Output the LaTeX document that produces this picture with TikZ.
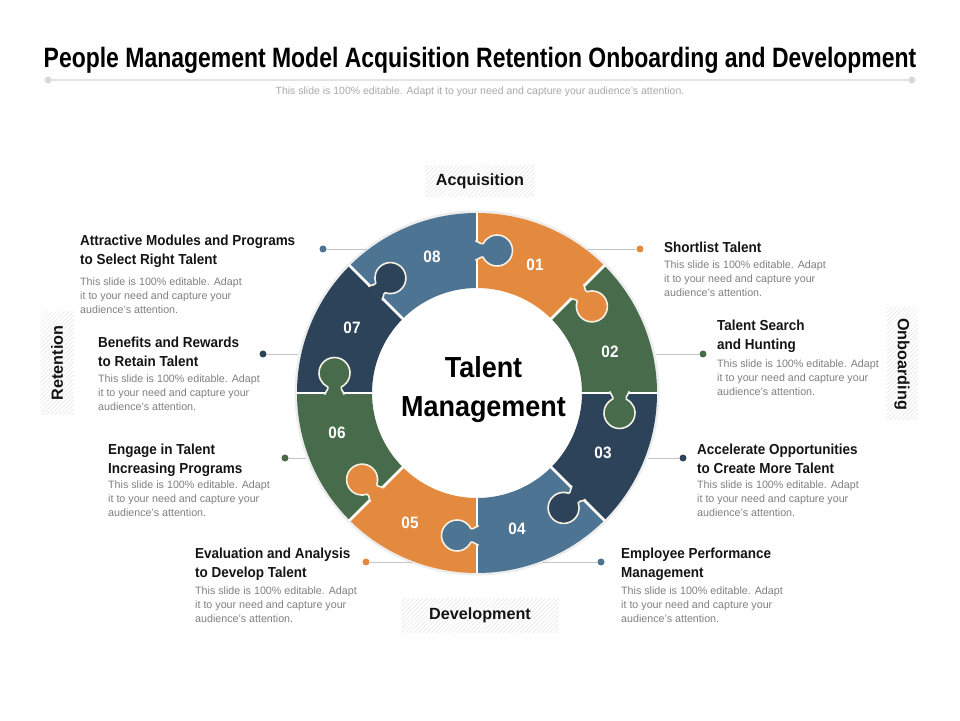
\documentclass[tikz,border=0pt]{standalone}
\usepackage{fontspec}
\setmainfont{Liberation Sans}
\newfontfamily\titlefont[FakeStretch=0.82]{Liberation Sans}
\newfontfamily\condfont[FakeStretch=0.93]{Liberation Sans}
\usetikzlibrary{patterns.meta}
\definecolor{corange}{HTML}{E38A3F}
\definecolor{cgreen}{HTML}{476B4B}
\definecolor{cnavy}{HTML}{2C435A}
\definecolor{cblue}{HTML}{4D7492}
\definecolor{cdesc}{HTML}{7F7F7F}
\definecolor{csub}{HTML}{A8A8A8}
\definecolor{cline}{HTML}{C4C4C4}
\definecolor{ccream}{HTML}{F6F1E4}
\begin{document}
\begin{tikzpicture}[x=1pt,y=1pt,
  heading/.style={anchor=base west, inner sep=0pt, font=\condfont\bfseries\fontsize{14.5}{19}\selectfont, text=black!92},
  desc/.style={anchor=base west, inner sep=0pt, font=\fontsize{10.7}{14}\selectfont, text=cdesc},
  dotnode/.style={circle, inner sep=0pt, minimum size=7pt},
  conn/.style={draw=cline, line width=0.7pt},
  numlabel/.style={font=\condfont\bfseries\fontsize{16.5}{18}\selectfont, text=white, inner sep=0pt},
  sidelabel/.style={font=\bfseries\fontsize{16.2}{18}\selectfont, inner sep=0pt, text=black!92,
     pattern={Lines[angle=45,distance=3pt,line width=0.5pt]}, pattern color=gray!22},
  centertext/.style={anchor=base, inner sep=0pt, font=\condfont\bfseries\fontsize{29}{32}\selectfont},
]
\useasboundingbox (0,0) rectangle (960,720);
% title
\node[anchor=base, inner sep=0pt] (title) at (480,652)
  {\titlefont\bfseries\fontsize{28}{30}\selectfont People Management Model Acquisition Retention Onboarding and Development};
\coordinate (tl) at (48,640);
\coordinate (tr) at (912,640);
\draw[draw=gray!22, line width=1.3pt] (tl) -- (tr);
\node[dotnode, fill=gray!30] (tld) at (tl) {};
\node[dotnode, fill=gray!30] (trd) at (tr) {};
\node[anchor=base, inner sep=0pt, text=csub, font=\fontsize{10.5}{12}\selectfont] (sub) at (480,625)
  {This slide is 100\% editable. Adapt it to your need and capture your audience's attention.};

% ring
\begin{scope}[shift={(477,327)}]
  \fill[gray!14, even odd rule] (0,0) circle (182.5) (0,0) circle (179);
  \foreach \a/\c in {90/corange, 45/cgreen, 0/cnavy, -45/cblue, -90/corange, -135/cgreen, -180/cnavy, -225/cblue} {
    \pgfmathsetmacro\b{\a-45}
    \fill[\c] (\a:180) arc[start angle=\a, end angle=\b, radius=180] -- (\b:105) arc[start angle=\b, end angle=\a, radius=105] -- cycle;
  }
  \foreach \a in {90,45,0,-45,-90,-135,-180,-225} {
    \draw[white, line width=2.5pt] (\a:104) -- (\a:181);
  }
  \foreach \a/\c in {90/cblue, 45/corange, 0/cgreen, -45/cnavy, -90/cblue, -135/corange, 180/cgreen, 135/cnavy} {
    \pgfmathsetmacro\r{\a-90}
    \begin{scope}[shift={(\a:142.5)}, rotate=\r]
      \path[fill=\c, draw=ccream, line width=1.6pt]
        (-1.6,-9.8) .. controls (1.5,-9.8) and (1.5,-6.8) .. (4,-6.8) -- (6.07,-6.8)
        arc[start angle=-153.98, end angle=153.98, radius=15.5]
        -- (4,6.8) .. controls (1.5,6.8) and (1.5,9.8) .. (-1.6,9.8);
    \end{scope}
  }
\end{scope}

% numbers
\node[numlabel] (n1) at (535,455) {01};
\node[numlabel] (n2) at (610,368) {02};
\node[numlabel] (n3) at (603,267) {03};
\node[numlabel] (n4) at (517,191) {04};
\node[numlabel] (n5) at (410,197) {05};
\node[numlabel] (n6) at (337,287) {06};
\node[numlabel] (n7) at (352,392) {07};
\node[numlabel] (n8) at (432,463) {08};

% center text
\node[centertext] (ct1) at (483.5,342) {Talent};
\node[centertext] (ct2) at (483.5,303) {Management};

% side labels
\node[sidelabel, minimum width=109pt, minimum height=31pt] (acq) at (480,539) {Acquisition};
\node[sidelabel, minimum width=157pt, minimum height=34pt] (dev) at (480,105) {Development};
\node[sidelabel, rotate=-90, minimum width=112pt, minimum height=31pt] (onb) at (902,356) {Onboarding};
\node[sidelabel, rotate=90, minimum width=103pt, minimum height=33pt] (ret) at (57,357) {Retention};

% connectors
\coordinate (e1) at (587,471);
\coordinate (e2) at (656,366);
\coordinate (e3) at (648,262);
\coordinate (e4) at (542,158);
\coordinate (e5) at (412,158);
\coordinate (e6) at (306,262);
\coordinate (e7) at (298,366);
\coordinate (e8) at (367,471);
\node[dotnode, fill=corange] (p1) at (640,471) {};
\node[dotnode, fill=cgreen] (p2) at (703,366) {};
\node[dotnode, fill=cnavy] (p3) at (683,262) {};
\node[dotnode, fill=cblue] (p4) at (601,158) {};
\node[dotnode, fill=corange] (p5) at (366,158) {};
\node[dotnode, fill=cgreen] (p6) at (285,262) {};
\node[dotnode, fill=cnavy] (p7) at (263,366) {};
\node[dotnode, fill=cblue] (p8) at (323,471) {};
\foreach \i in {1,...,8} { \draw[conn] (e\i) -- (p\i); }

% items
\node[heading] (h1) at (664,467) {\parbox[t]{250pt}{\raggedright Shortlist Talent}};
\node[desc] (d1) at (664,451) {\parbox[t]{200pt}{\raggedright This slide is 100\% editable. Adapt\\ it to your need and capture your\\ audience's attention.}};

\node[heading] (h2) at (717,389) {\parbox[t]{250pt}{\raggedright Talent Search\\ and Hunting}};
\node[desc] (d2) at (717,352) {\parbox[t]{200pt}{\raggedright This slide is 100\% editable. Adapt\\ it to your need and capture your\\ audience's attention.}};

\node[heading] (h3) at (697,265) {\parbox[t]{250pt}{\raggedright Accelerate Opportunities\\ to Create More Talent}};
\node[desc] (d3) at (697,231) {\parbox[t]{200pt}{\raggedright This slide is 100\% editable. Adapt\\ it to your need and capture your\\ audience's attention.}};

\node[heading] (h4) at (621,161) {\parbox[t]{250pt}{\raggedright Employee Performance\\ Management}};
\node[desc] (d4) at (621,126) {\parbox[t]{200pt}{\raggedright This slide is 100\% editable. Adapt\\ it to your need and capture your\\ audience's attention.}};

\node[heading] (h5) at (195,161) {\parbox[t]{250pt}{\raggedright Evaluation and Analysis\\ to Develop Talent}};
\node[desc] (d5) at (195,126) {\parbox[t]{200pt}{\raggedright This slide is 100\% editable. Adapt\\ it to your need and capture your\\ audience's attention.}};

\node[heading] (h6) at (108,265) {\parbox[t]{250pt}{\raggedright Engage in Talent\\ Increasing Programs}};
\node[desc] (d6) at (108,231) {\parbox[t]{200pt}{\raggedright This slide is 100\% editable. Adapt\\ it to your need and capture your\\ audience's attention.}};

\node[heading] (h7) at (98,372) {\parbox[t]{250pt}{\raggedright Benefits and Rewards\\ to Retain Talent}};
\node[desc] (d7) at (98,337) {\parbox[t]{200pt}{\raggedright This slide is 100\% editable. Adapt\\ it to your need and capture your\\ audience's attention.}};

\node[heading] (h8) at (80,474) {\parbox[t]{250pt}{\raggedright Attractive Modules and Programs\\ to Select Right Talent}};
\node[desc] (d8) at (80,434) {\parbox[t]{200pt}{\raggedright This slide is 100\% editable. Adapt\\ it to your need and capture your\\ audience's attention.}};
\end{tikzpicture}
\end{document}
